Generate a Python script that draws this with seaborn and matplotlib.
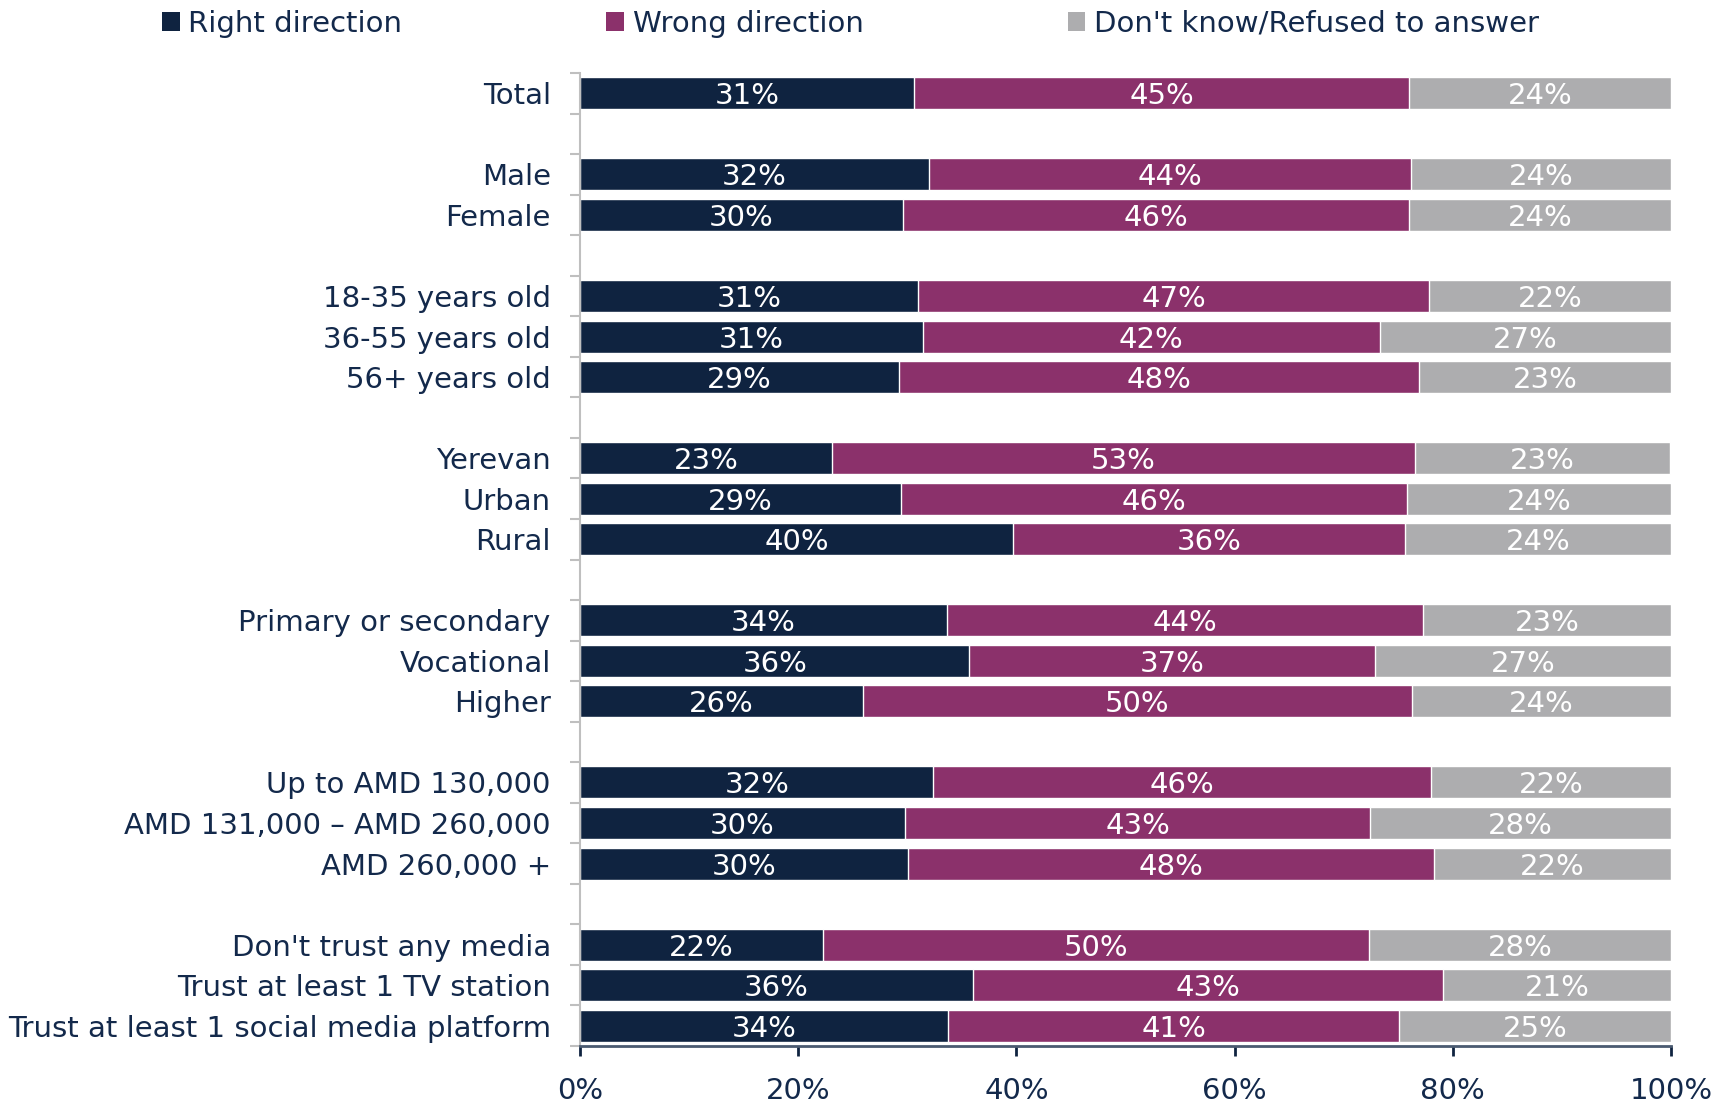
import matplotlib
matplotlib.use("Agg")
import matplotlib.pyplot as plt
from matplotlib.patches import Patch
from matplotlib.ticker import FixedLocator, PercentFormatter
import seaborn as sns
import pandas as pd
import numpy as np

# ---------------- data ----------------
categories = ["Total",
              "Male", "Female",
              "18-35 years old", "36-55 years old", "56+ years old",
              "Yerevan", "Urban", "Rural",
              "Primary or secondary", "Vocational", "Higher",
              "Up to AMD 130,000", "AMD 131,000 \u2013 AMD 260,000", "AMD 260,000 +",
              "Don't trust any media", "Trust at least 1 TV station",
              "Trust at least 1 social media platform"]
group_sizes = [1, 2, 3, 3, 3, 3, 3]
right = [30.6, 32.0, 29.6, 31.0, 31.4, 29.2, 23.1, 29.4, 39.7, 33.6, 35.7, 25.9,
         32.4, 29.8, 30.1, 22.3, 36.0, 33.7]
wrong = [45.4, 44.2, 46.4, 46.8, 41.9, 47.7, 53.4, 46.4, 35.9, 43.7, 37.2, 50.4,
         45.6, 42.6, 48.2, 50.0, 43.1, 41.4]
dont = [24.0, 23.8, 24.0, 22.2, 26.7, 23.1, 23.4, 24.2, 24.4, 22.7, 27.1, 23.7,
        22.0, 27.6, 21.7, 27.7, 20.9, 24.9]
series_names = ["Right direction", "Wrong direction", "Don't know/Refused to answer"]
x_ticks = [0, 20, 40, 60, 80, 100]

# ---------------- style ----------------
NAVY = "#0F2340"
MAGENTA = "#8B316B"
GRAY = "#ADADAF"
TEXT = "#13294B"

sns.set_theme(style="white")
plt.rcParams["font.family"] = ["DejaVu Sans"]
FS = 21

# order with blank gap slots between groups
order = []
idx = 0
gap_n = 0
for gi, gs in enumerate(group_sizes):
    if gi > 0:
        gap_n += 1
        order.append(" " * gap_n)
    for _ in range(gs):
        order.append(categories[idx])
        idx += 1

df = pd.DataFrame({"cat": categories, "right": right, "wrong": wrong, "dont": dont})
df["c1"] = df["right"]
df["c2"] = df["right"] + df["wrong"]
df["c3"] = df["c2"] + df["dont"]

fig = plt.figure(figsize=(17.25, 11.04), dpi=100)
ax = fig.add_axes([580 / 1725, 1 - 1046 / 1104, (1671 - 580) / 1725, (1046 - 73) / 1104])

W = 0.79
sns.barplot(data=df, x="c3", y="cat", order=order, color=GRAY, width=W, orient="h",
            saturation=1, ax=ax, errorbar=None)
sns.barplot(data=df, x="c2", y="cat", order=order, color=MAGENTA, width=W, orient="h",
            saturation=1, ax=ax, errorbar=None)
sns.barplot(data=df, x="c1", y="cat", order=order, color=NAVY, width=W, orient="h",
            saturation=1, ax=ax, errorbar=None)

# segment labels
for _, r in df.iterrows():
    y = order.index(r["cat"])
    starts = [0, r["c1"], r["c2"]]
    vals = [r["right"], r["wrong"], r["dont"]]
    for s, v in zip(starts, vals):
        ax.text(s + v / 2, y, f"{v:.0f}%", ha="center", va="center_baseline",
                color="white", fontsize=FS)

ax.set_xlim(0, 100)
ax.set_ylim(len(order) - 0.5, -0.5)
ax.set_xlabel("")
ax.set_ylabel("")

# y axis: labels at rows, small marks at every slot boundary
ax.set_yticks(range(len(order)))
ax.set_yticklabels([c.strip() for c in order])
ax.yaxis.set_minor_locator(FixedLocator(np.arange(-0.5, len(order), 1.0)))
ax.tick_params(axis="y", which="major", length=0, pad=21, labelsize=FS, labelcolor=TEXT)
ax.tick_params(axis="y", which="minor", left=True, length=7, width=1.5, color="#BFBFBF")

ax.set_xticks(x_ticks)
ax.xaxis.set_major_formatter(PercentFormatter(100, decimals=0))
ax.tick_params(axis="x", which="major", bottom=True, length=7, width=2, color=NAVY,
               pad=15, labelsize=FS, labelcolor=TEXT)

for s in ["top", "right"]:
    ax.spines[s].set_visible(False)
ax.spines["left"].set_color("#BFBFBF")
ax.spines["left"].set_linewidth(1.5)
ax.spines["bottom"].set_color("#4A5A70")
ax.spines["bottom"].set_linewidth(2)
ax.grid(False)

handles = [Patch(facecolor=c, edgecolor="none") for c in (NAVY, MAGENTA, GRAY)]
fig.legend(handles, series_names, loc="center left",
           bbox_to_anchor=(162 / 1725, 1 - 24 / 1104), ncol=3, frameon=False,
           fontsize=FS, handlelength=0.6, handleheight=0.6, handletextpad=0.3,
           columnspacing=7.0, borderpad=0, borderaxespad=0, labelcolor=TEXT)

fig.savefig("out.png", dpi=100)
